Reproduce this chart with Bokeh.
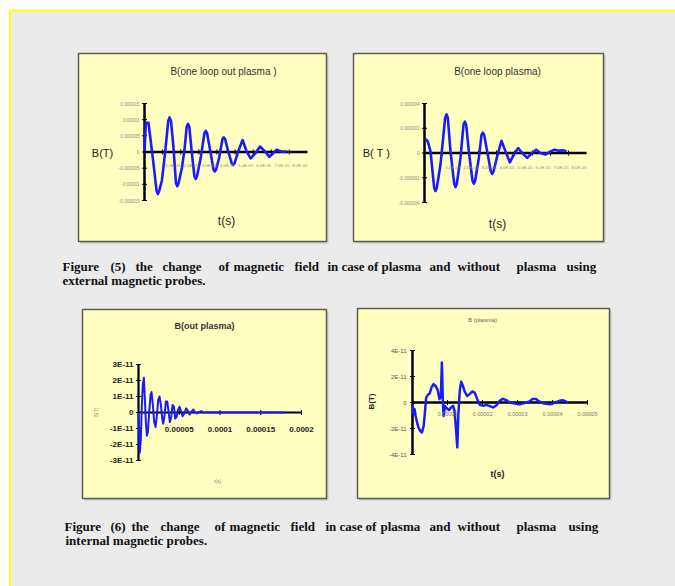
import numpy as np
from bokeh.plotting import figure
from bokeh.models import Range1d
from bokeh.embed import file_html
from bokeh.resources import INLINE
from bokeh.core.properties import value

# ---------------- data ----------------
# Chart 1: B(one loop out plasma), t in 1e-5 s, B in 1e-6 T
T1_E5 = [0, 0.074, 0.222, 0.480, 0.665, 0.739, 0.813, 0.961, 1.146, 1.312,
         1.386, 1.460, 1.589, 1.737, 1.811, 1.885, 2.070, 2.218, 2.328, 2.402,
         2.476, 2.587, 2.754, 2.827, 2.901, 3.105, 3.308, 3.382, 3.456, 3.604,
         3.807, 3.881, 3.955, 4.121, 4.306, 4.380, 4.454, 4.620, 4.823, 4.897,
         4.971, 5.174, 5.415, 5.636, 5.858, 6.135, 6.376, 6.653, 6.893, 7.115,
         7.30, 7.54, 7.76, 7.85]
B1_E6 = [0.2, 9.0, 9.0, -2.8, -12.0, -13.0, -12.0, -8.8, 0.2, 9.7,
         10.7, 9.7, 2.2, -9.6, -10.6, -9.6, -4.8, 1.2, 7.8, 8.7,
         7.8, 1.2, -7.5, -8.3, -7.5, -1.8, 5.8, 6.5, 5.8, 1.2,
         -5.4, -6.0, -5.4, -1.8, 4.0, 4.5, 4.0, 0.2, -3.6, -4.0,
         -3.6, 0.2, 3.7, 0.2, -2.0, -0.3, 1.7, 0.2, -1.5, -0.3,
         0.7, 0.2, 0.0, 0.4]

# Chart 2: B(one loop plasma), t in 1e-5 s, B in 1e-6 T
T2_E5 = [0.037, 0.185, 0.333, 0.537, 0.611, 0.685, 0.889, 1.148, 1.222, 1.296,
         1.444, 1.648, 1.722, 1.796, 2.0, 2.167, 2.241, 2.315, 2.463, 2.667,
         2.741, 2.815, 3.019, 3.167, 3.241, 3.315, 3.482, 3.686, 3.760, 3.834,
         4.037, 4.278, 4.5, 4.741, 4.963, 5.204, 5.426, 5.704, 5.982, 6.204,
         6.445, 6.723, 7.0, 7.223, 7.464, 7.741, 7.89]
B2_E6 = [1.15, 0.93, 0.13, -2.80, -3.07, -2.80, -0.93, 2.85, 3.12, 2.85,
         0.13, -2.48, -2.75, -2.48, -0.40, 2.29, 2.53, 2.29, 0.13, -2.24,
         -2.48, -2.24, -0.40, 1.47, 1.65, 1.47, 0.13, -1.49, -1.68, -1.49,
         -0.27, 0.99, 0.13, -0.75, -0.13, 0.40, 0, -0.40, 0, 0.27,
         0, -0.13, 0.13, 0.27, 0.19, 0.21, 0.13]

# Chart 3: B(out plasma), t in 1e-5 s, B in 1e-11 T
T3_E5 = [0, 0.08, 0.16, 0.29, 0.41, 0.53, 0.66, 0.78, 0.90, 1.03,
         1.15, 1.31, 1.48, 1.60, 1.76, 1.93, 2.09, 2.26, 2.42, 2.58,
         2.75, 2.91, 3.03, 3.20, 3.36, 3.53, 3.69, 3.85, 4.02, 4.18,
         4.35, 4.51, 4.67, 4.84, 5.04, 5.25, 5.41, 5.62, 5.86, 6.07,
         6.27, 6.48, 6.72, 6.97, 7.22, 7.46, 7.71, 7.99, 18.04]
B3_E11 = [0, -1.23, -2.51, -1.66, 0.47, 1.74, 2.17, 0.89, -0.60, -1.45,
          -1.23, 0.04, 1.11, 1.28, 0.47, -0.60, -0.91, -0.17, 0.79, 1.00,
          0.47, -0.38, -0.70, -0.17, 0.68, 0.68, 0.04, -0.60, -0.28, 0.47,
          0.36, -0.38, -0.28, 0.15, 0.36, 0.04, -0.23, -0.06, 0.26, 0.09,
          -0.13, 0.04, 0.19, 0, -0.06, 0.04, 0.09, 0, 0]

# Chart 4: B (plasma), t in 1e-5 s, B in 1e-11 T
T4_E5 = [0, 0.03, 0.06, 0.09, 0.12, 0.17, 0.22, 0.27, 0.32, 0.35,
         0.39, 0.44, 0.49, 0.54, 0.60, 0.66, 0.72, 0.77, 0.81, 0.84,
         0.87, 0.89, 0.93, 0.98, 1.04, 1.10, 1.16, 1.20, 1.24, 1.28,
         1.31, 1.35, 1.39, 1.43, 1.49, 1.56, 1.63, 1.71, 1.78, 1.85,
         1.92, 2.02, 2.11, 2.21, 2.30, 2.40, 2.49, 2.58, 2.68, 2.78,
         2.92, 3.06, 3.20, 3.34, 3.43, 3.53, 3.62, 3.76, 3.93, 4.08,
         4.20, 4.29, 4.38, 4.45]
B4_E11 = [-0.13, -0.90, -0.51, -1.03, -1.41, -1.92, -2.18, -2.31, -1.79, -0.90,
          0.38, 0.59, 0.69, 1.15, 1.41, 1.28, 0.95, 0.26, 0.44, 3.08,
          -0.13, -1.03, -0.26, -0.44, -0.59, -0.38, -0.26, -0.64, -1.92, -3.46,
          -0.90, 0.90, 1.59, 1.36, 0.85, 0.51, 0.64, 0.85, 0.74, 0.26,
          -0.18, -0.26, -0.18, -0.28, -0.38, -0.21, 0.13, 0.28, 0.18, 0,
          -0.08, -0.13, -0.05, 0.08, 0.26, 0.26, 0.08, -0.08, -0.13, 0,
          0.13, 0.18, 0.08, -0.03]

# tick values / labels
XT_TOP = [1e-5, 2e-5, 3e-5, 4e-5, 5e-5, 6e-5, 7e-5, 8e-5]
XL_TOP = ["1.0E-05", "2.0E-05", "3.0E-05", "4.0E-05", "5.0E-05", "6.0E-05", "7.0E-05", "8.0E-05"]
YT_1 = [1.5e-5, 1e-5, 5e-6, 0, -5e-6, -1e-5, -1.5e-5]
YL_1 = ["0.000015", "0.00001", "0.000005", "0", "-0.000005", "-0.00001", "-0.000015"]
YT_2 = [4e-6, 2e-6, 0, -2e-6, -4e-6]
YL_2 = ["0.000004", "0.000002", "0", "-0.000002", "-0.000004"]
XT_3 = [5e-5, 1e-4, 1.5e-4, 2e-4]
XL_3 = ["0.00005", "0.0001", "0.00015", "0.0002"]
YT_3 = [3e-11, 2e-11, 1e-11, 0, -1e-11, -2e-11, -3e-11]
YL_3 = ["3E-11", "2E-11", "1E-11", "0", "-1E-11", "-2E-11", "-3E-11"]
XT_4 = [1e-5, 2e-5, 3e-5, 4e-5, 5e-5]
XL_4 = ["0.00001", "0.00002", "0.00003", "0.00004", "0.00005"]
YT_4 = [4e-11, 2e-11, 0, -2e-11, -4e-11]
YL_4 = ["4E-11", "2E-11", "0", "-2E-11", "-4E-11"]

CAP1 = "Figure (5) the change of magnetic field in case of plasma and without plasma using"
CAP1B = "external magnetic probes."
CAP2 = "Figure (6) the change of magnetic field in case of plasma and without plasma using"
CAP2B = "internal magnetic probes."

# ---------------- figure ----------------
W, H = 675, 586


def X(s):
    return s


def Y(s):
    return H - s


p = figure(width=W, height=H, x_range=Range1d(0, W), y_range=Range1d(0, H),
           output_backend="svg", toolbar_location=None, min_border=0,
           x_axis_location=None, y_axis_location=None,
           background_fill_color="#FFFFFF", border_fill_color="#FFFFFF",
           outline_line_color=None)
p.grid.visible = False

SANS = value("Liberation Sans")
SERIF = value("Liberation Serif")
BLUE = "#1A1AFF"

# grey page with yellow frame (top and left edges)
p.quad(left=X(9.5), right=X(680), top=Y(10), bottom=Y(590), fill_color="#EBEBEB", line_color=None)
p.segment(x0=[X(8.5), X(9.5)], y0=[Y(10), Y(10)], x1=[X(680), X(9.5)], y1=[Y(10), Y(590)],
          line_color="#FFFF00", line_width=2)

# chart panels
panels = [(78, 326, 53, 241), (353, 603, 53, 241), (82, 326, 309, 498), (357, 609, 308, 498)]
for l, r, t, b in panels:
    p.quad(left=X(l) + 2, right=X(r) + 2, top=Y(t) - 2, bottom=Y(b) - 2,
           fill_color="#C8C8C8", line_color=None)
    p.quad(left=X(l), right=X(r), top=Y(t), bottom=Y(b),
           fill_color="#FFFFC0", line_color="#5A5A5A", line_width=1.5)


def make(ax_l, ax_r, ax_t, ax_b, xr, yr):
    return p.subplot(x_source=Range1d(*xr), y_source=Range1d(*yr),
                     x_target=Range1d(X(ax_l), X(ax_r)),
                     y_target=Range1d(Y(ax_b), Y(ax_t)))


def axes(s, xr, yr, w, xt, yt):
    s.segment(x0=[0, 0], y0=[yr[0], 0], x1=[0, xr[1]], y1=[yr[1], 0],
              line_color="black", line_width=w)
    s.scatter(x=[0] * len(yt), y=yt, marker="dash", size=5, line_color="black", line_width=1)
    s.scatter(x=xt, y=[0] * len(xt), marker="dash", angle=np.pi / 2, size=5,
              line_color="black", line_width=1)


# ---- chart 1 ----
xr1, yr1 = (0, 9e-5), (-1.5e-5, 1.5e-5)
s1 = make(144, 307, 103, 200, xr1, yr1)
axes(s1, xr1, yr1, 2.5, XT_TOP, YT_1)
s1.line(np.array(T1_E5) * 1e-5, np.array(B1_E6) * 1e-6, line_color=BLUE, line_width=2.6, line_join="round")
s1.text(x=[0] * len(YT_1), y=YT_1, text=YL_1, x_offset=-5, text_align="right", text_baseline="middle",
        text_font=SANS, text_font_size="4.6px", text_color="#8A8A8A")
s1.text(x=XT_TOP, y=[0] * len(XT_TOP), text=XL_TOP, x_offset=3, y_offset=13, text_align="left",
        text_baseline="middle", text_font=SANS, text_font_size="4.3px", text_color="#8A8A8A")
p.text(x=[X(223)], y=[Y(71)], text=["B(one loop out plasma )"], text_align="center", text_baseline="middle",
       text_font=SANS, text_font_size="10px", text_color="#333333")
p.text(x=[X(102)], y=[Y(152)], text=["B(T)"], text_align="center", text_baseline="middle",
       text_font=SANS, text_font_size="11px", text_color="#222222")
p.text(x=[X(226)], y=[Y(220)], text=["t(s)"], text_align="center", text_baseline="middle",
       text_font=SANS, text_font_size="12px", text_color="#222222")

# ---- chart 2 ----
xr2, yr2 = (0, 9e-5), (-4e-6, 4e-6)
s2 = make(424, 586, 103, 202, xr2, yr2)
axes(s2, xr2, yr2, 2.5, XT_TOP, YT_2)
s2.line(np.array(T2_E5) * 1e-5, np.array(B2_E6) * 1e-6, line_color=BLUE, line_width=2.6, line_join="round")
s2.text(x=[0] * len(YT_2), y=YT_2, text=YL_2, x_offset=-5, text_align="right", text_baseline="middle",
        text_font=SANS, text_font_size="4.6px", text_color="#8A8A8A")
s2.text(x=XT_TOP, y=[0] * len(XT_TOP), text=XL_TOP, x_offset=3, y_offset=14, text_align="left",
        text_baseline="middle", text_font=SANS, text_font_size="4.3px", text_color="#8A8A8A")
p.text(x=[X(497)], y=[Y(71)], text=["B(one loop plasma)"], text_align="center", text_baseline="middle",
       text_font=SANS, text_font_size="10px", text_color="#333333")
p.text(x=[X(376)], y=[Y(152)], text=["B( T )"], text_align="center", text_baseline="middle",
       text_font=SANS, text_font_size="11px", text_color="#222222")
p.text(x=[X(497)], y=[Y(223)], text=["t(s)"], text_align="center", text_baseline="middle",
       text_font=SANS, text_font_size="12px", text_color="#222222")

# ---- chart 3 ----
xr3, yr3 = (0, 2e-4), (-3e-11, 3e-11)
s3 = make(138, 301, 364, 460, xr3, yr3)
axes(s3, xr3, yr3, 2.2, XT_3, YT_3)
s3.line(np.array(T3_E5) * 1e-5, np.array(B3_E11) * 1e-11, line_color=BLUE, line_width=2, line_join="round")
s3.text(x=[0] * len(YT_3), y=YT_3, text=YL_3, x_offset=-5, text_align="right", text_baseline="middle",
        text_font=SANS, text_font_size="8px", text_font_style="bold", text_color="#222222")
s3.text(x=XT_3, y=[0] * len(XT_3), text=XL_3, y_offset=17, text_align="center",
        text_baseline="middle", text_font=SANS, text_font_size="8px", text_font_style="bold",
        text_color="#222222")
p.text(x=[X(204)], y=[Y(325)], text=["B(out plasma)"], text_align="center", text_baseline="middle",
       text_font=SANS, text_font_size="9px", text_font_style="bold", text_color="#333333")
p.text(x=[X(95)], y=[Y(412)], text=["B(T)"], angle=np.pi / 2, text_align="center", text_baseline="middle",
       text_font=SANS, text_font_size="5px", text_color="#8A8A8A")
p.text(x=[X(217)], y=[Y(480)], text=["t(s)"], text_align="center", text_baseline="middle",
       text_font=SANS, text_font_size="5px", text_color="#8A8A8A")

# ---- chart 4 ----
xr4, yr4 = (0, 5e-5), (-4e-11, 4e-11)
s4 = make(412, 587, 350, 454, xr4, yr4)
axes(s4, xr4, yr4, 2.5, XT_4, YT_4)
s4.line(np.array(T4_E5) * 1e-5, np.array(B4_E11) * 1e-11, line_color=BLUE, line_width=2.5, line_join="round")
s4.text(x=[0] * len(YT_4), y=YT_4, text=YL_4, x_offset=-6, text_align="right", text_baseline="middle",
        text_font=SANS, text_font_size="6px", text_color="#555555")
s4.text(x=XT_4, y=[0] * len(XT_4), text=XL_4, y_offset=11, text_align="center",
        text_baseline="middle", text_font=SANS, text_font_size="5.5px", text_color="#777777")
p.text(x=[X(482)], y=[Y(319)], text=["B (plasma)"], text_align="center", text_baseline="middle",
       text_font=SANS, text_font_size="6px", text_color="#666666")
p.text(x=[X(371)], y=[Y(401)], text=["B(T)"], angle=np.pi / 2, text_align="center", text_baseline="middle",
       text_font=SANS, text_font_size="8px", text_font_style="bold", text_color="#222222")
p.text(x=[X(497)], y=[Y(473)], text=["t(s)"], text_align="center", text_baseline="middle",
       text_font=SANS, text_font_size="9px", text_font_style="bold", text_color="#222222")

# ---- captions (justified lines, word by word) ----
cap_x1 = [62, 110, 135, 162, 218, 233, 294, 327, 341, 367, 381, 429, 457, 516, 566]
cap_x2 = [64, 110, 131, 160, 214, 229, 290, 325, 339, 365, 380, 429, 457, 516, 568]
for words, xs, base in [(CAP1.split(), cap_x1, 265.5), (CAP2.split(), cap_x2, 525.5)]:
    p.text(x=[X(v) for v in xs], y=[Y(base)] * len(words), text=words, text_align="left",
           text_baseline="alphabetic", text_font=SERIF, text_font_size="13px",
           text_font_style="bold", text_color="#111111")
p.text(x=[X(62), X(65)], y=[Y(279.5), Y(540)], text=[CAP1B, CAP2B], text_align="left",
       text_baseline="alphabetic", text_font=SERIF, text_font_size="13px",
       text_font_style="bold", text_color="#111111")

open("out.html", "w").write(file_html(p, INLINE))
